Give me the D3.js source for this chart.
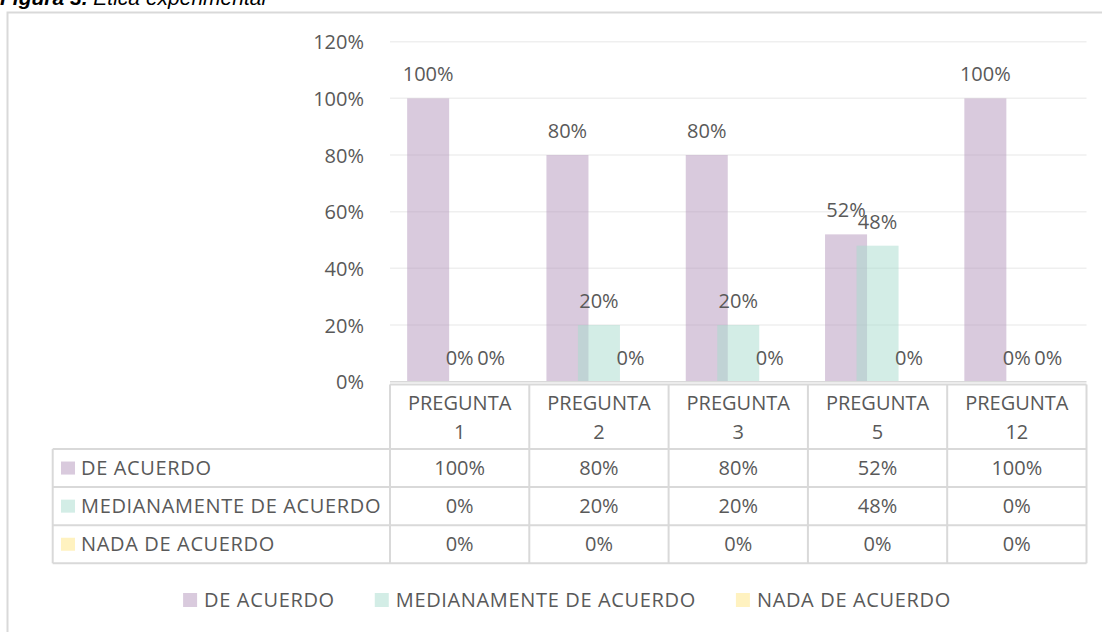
<!DOCTYPE html>
<html>
<head>
<meta charset="utf-8">
<script src="https://cdn.jsdelivr.net/npm/d3@7/dist/d3.min.js"></script>
<style>
  html, body { margin: 0; padding: 0; background: #fff; }
  svg { display: block; }
</style>
</head>
<body>
<svg id="chart" width="1102" height="632"></svg>
<script>
// ---- data ----
const categories = ["PREGUNTA 1", "PREGUNTA 2", "PREGUNTA 3", "PREGUNTA 5", "PREGUNTA 12"];
const categoryLines = [["PREGUNTA", "1"], ["PREGUNTA", "2"], ["PREGUNTA", "3"], ["PREGUNTA", "5"], ["PREGUNTA", "12"]];
const seriesNames = ["DE ACUERDO", "MEDIANAMENTE DE ACUERDO", "NADA DE ACUERDO"];
const deAcuerdo = [1.00, 0.80, 0.80, 0.52, 1.00];
const medianamente = [0.00, 0.20, 0.20, 0.48, 0.00];
const nada = [0.00, 0.00, 0.00, 0.00, 0.00];
const yTicks = [0, 0.2, 0.4, 0.6, 0.8, 1.0, 1.2];
const titleBold = "Figura 3.";
const titleItalic = "Ética experimental";

const seriesValues = [deAcuerdo, medianamente, nada];
const colors = ["rgba(180,150,188,0.5)", "rgba(168,220,205,0.5)", "rgba(255,230,130,0.5)"];
const textColor = "#595959";
const font = "'Open Sans', sans-serif";
const fs = 20;
const nameSpacing = 0.65;

const svg = d3.select("#chart");
const pct = d3.format(".0%");

// frame
svg.append("rect").attr("x", 7.5).attr("y", 12.5).attr("width", 1110).attr("height", 640)
  .attr("fill", "#fff").attr("stroke", "#d9d9d9").attr("stroke-width", 2);

// title (cut off at top)
const title = svg.append("text").attr("x", 0).attr("y", 5)
  .attr("font-family", "Arial, 'Liberation Sans', sans-serif").attr("font-size", 21)
  .attr("font-style", "italic").attr("fill", "#000");
title.append("tspan").attr("font-weight", "bold").text(titleBold + " ");
title.append("tspan").text(titleItalic);

// scales
const plotLeft = 390, plotRight = 1086.5;
const y = d3.scaleLinear().domain([0, 1.2]).range([381.7, 41.7]);
const x = d3.scaleBand().domain(categories).range([plotLeft, plotRight]).padding(0);
const barW = 42, step = 31.5;
const sx = d3.scaleLinear().domain([0, 2]).range([-step, step]);

// gridlines
svg.append("g").selectAll("line").data(yTicks.slice(1)).join("line")
  .attr("x1", plotLeft).attr("x2", plotRight)
  .attr("y1", d => y(d)).attr("y2", d => y(d))
  .attr("stroke", "#efefef").attr("stroke-width", 1.5);

// y axis labels
const yAxis = d3.axisLeft(y).tickValues(yTicks).tickFormat(pct).tickSize(0).tickPadding(0);
const yg = svg.append("g").attr("transform", "translate(364,0)").call(yAxis);
yg.select(".domain").remove();
yg.selectAll("text").attr("font-family", font).attr("font-size", fs).attr("fill", textColor)
  .attr("dy", "0.35em");

// bars
seriesValues.forEach((vals, si) => {
  const g = svg.append("g");
  g.selectAll("rect").data(vals).join("rect")
    .attr("x", (d, i) => x(categories[i]) + x.bandwidth() / 2 + sx(si) - barW / 2)
    .attr("y", d => y(d))
    .attr("width", barW)
    .attr("height", d => y(0) - y(d))
    .attr("fill", colors[si]);
});

// data labels
seriesValues.forEach((vals, si) => {
  svg.append("g").selectAll("text").data(vals).join("text")
    .attr("x", (d, i) => x(categories[i]) + x.bandwidth() / 2 + sx(si))
    .attr("y", d => y(d) - 17)
    .attr("text-anchor", "middle")
    .attr("font-family", font).attr("font-size", fs).attr("fill", textColor)
    .text(d => pct(d));
});

// x axis line
svg.append("line").attr("x1", plotLeft).attr("x2", plotRight)
  .attr("y1", y(0)).attr("y2", y(0)).attr("stroke", "#d9d9d9").attr("stroke-width", 1.5);

// data table
const tableLeft = 52.7;
const headTop = 384.5, headBottom = 449;
const rowH = (563.3 - headBottom) / 3;
const lineColor = "#d9d9d9";
const tg = svg.append("g");

tg.append("line").attr("x1", plotLeft).attr("x2", plotRight).attr("y1", headTop).attr("y2", headTop)
  .attr("stroke", lineColor).attr("stroke-width", 2);
[0, 1, 2, 3].forEach(k => {
  const yy = headBottom + k * rowH;
  tg.append("line").attr("x1", tableLeft).attr("x2", plotRight).attr("y1", yy).attr("y2", yy)
    .attr("stroke", lineColor).attr("stroke-width", 2);
});
tg.append("line").attr("x1", tableLeft).attr("x2", tableLeft).attr("y1", headBottom).attr("y2", headBottom + 3 * rowH)
  .attr("stroke", lineColor).attr("stroke-width", 2);
categories.forEach((c) => {
  tg.append("line").attr("x1", x(c)).attr("x2", x(c)).attr("y1", headTop).attr("y2", headBottom + 3 * rowH)
    .attr("stroke", lineColor).attr("stroke-width", 2);
});
tg.append("line").attr("x1", plotRight).attr("x2", plotRight).attr("y1", headTop).attr("y2", headBottom + 3 * rowH)
  .attr("stroke", lineColor).attr("stroke-width", 2);

// header text
categories.forEach((c, i) => {
  const cx = x(c) + x.bandwidth() / 2;
  categoryLines[i].forEach((line, li) => {
    tg.append("text").attr("x", cx).attr("y", 402.7 + li * 29).attr("dy", "0.35em")
      .attr("text-anchor", "middle").attr("font-family", font).attr("font-size", fs)
      .attr("fill", textColor).text(line);
  });
});

// rows
seriesNames.forEach((name, si) => {
  const cy = headBottom + si * rowH + rowH / 2;
  tg.append("rect").attr("x", 61).attr("y", cy - 6.5).attr("width", 14).attr("height", 13)
    .attr("fill", colors[si]);
  tg.append("text").attr("x", 81).attr("y", cy).attr("dy", "0.35em")
    .attr("font-family", font).attr("font-size", fs).attr("letter-spacing", nameSpacing)
    .attr("fill", textColor).text(name);
  seriesValues[si].forEach((v, i) => {
    tg.append("text").attr("x", x(categories[i]) + x.bandwidth() / 2).attr("y", cy).attr("dy", "0.35em")
      .attr("text-anchor", "middle").attr("font-family", font).attr("font-size", fs)
      .attr("fill", textColor).text(pct(v));
  });
});

// legend
const lg = svg.append("g");
const legendY = 600, gap = 40, swW = 14, swGap = 7;
let cursor = 0;
seriesNames.forEach((name, si) => {
  const it = lg.append("g");
  it.append("rect").attr("x", 0).attr("y", legendY - 7).attr("width", swW).attr("height", 14).attr("fill", colors[si]);
  const t = it.append("text").attr("x", swW + swGap).attr("y", legendY).attr("dy", "0.35em")
    .attr("font-family", font).attr("font-size", fs).attr("letter-spacing", nameSpacing)
    .attr("fill", textColor).text(name);
  const w = swW + swGap + t.node().getComputedTextLength();
  it.attr("transform", `translate(${cursor},0)`);
  cursor += w + gap;
});
const totalW = cursor - gap;
lg.attr("transform", `translate(${567 - totalW / 2},0)`);
</script>
</body>
</html>
